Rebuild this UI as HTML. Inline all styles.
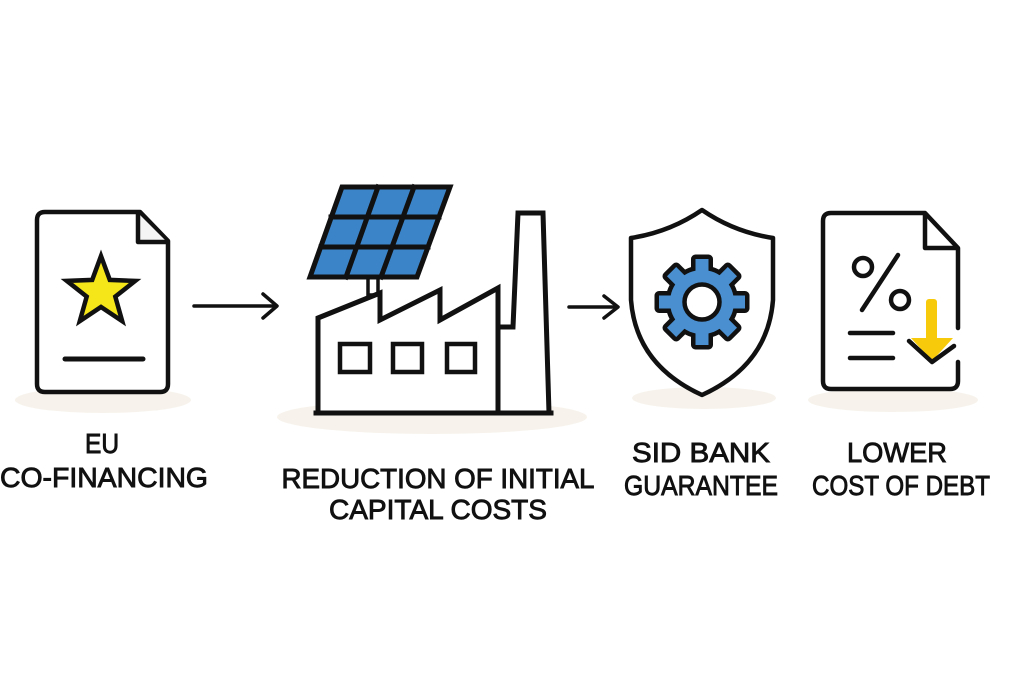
<!DOCTYPE html>
<html>
<head>
<meta charset="utf-8">
<style>
  html,body{margin:0;padding:0;background:#fff;}
  svg{display:block;}
  text{font-family:"Liberation Sans","DejaVu Sans",sans-serif;font-size:28px;fill:#111;stroke:#111;stroke-width:0.9px;}
</style>
</head>
<body>
<svg width="1024" height="683" viewBox="0 0 1024 683" xmlns="http://www.w3.org/2000/svg">
  <rect width="1024" height="683" fill="#fff"/>

  <!-- shadows -->
  <g fill="#f7f3ec">
    <ellipse cx="103" cy="400" rx="88" ry="13"/>
    <ellipse cx="432" cy="417" rx="155" ry="17"/>
    <ellipse cx="704" cy="398" rx="72" ry="11"/>
    <ellipse cx="893" cy="400" rx="85" ry="12"/>
  </g>

  <!-- Doc 1: EU co-financing -->
  <g stroke="#111" stroke-width="4.5" stroke-linejoin="round" stroke-linecap="round">
    <path d="M45,212 L140,212 L168,241 L168,384 Q168,392 160,392 L45,392 Q37,392 37,384 L37,220 Q37,212 45,212 Z" fill="#fff"/>
    <path d="M138,213 L138,242 L167,242" fill="#f4f4f4"/>
    <path d="M101,256 L109.8,279.9 L135.2,280.9 L115.3,296.6 L122.2,321.1 L101,307 L79.8,321.1 L86.7,296.6 L66.8,280.9 L92.2,279.9 Z" fill="#f5e61a" stroke-linejoin="miter"/>
    <line x1="65" y1="359" x2="143" y2="359" stroke-width="5"/>
  </g>

  <!-- Arrow 1 -->
  <g stroke="#111" stroke-width="3.5" fill="none" stroke-linecap="round" stroke-linejoin="round">
    <line x1="194" y1="306" x2="276" y2="306"/>
    <polyline points="263,294 277,306 263,318"/>
  </g>

  <!-- Factory with solar panel -->
  <g stroke="#111" stroke-width="5" stroke-linejoin="miter" stroke-linecap="square">
    <rect x="368" y="276" width="10" height="19" fill="#fff" stroke-width="3.5"/>
    <path d="M342,187 L450,187 L417,277 L310,277 Z" fill="#3c84c8"/>
    <line x1="331" y1="217" x2="439" y2="217"/>
    <line x1="321" y1="247" x2="428" y2="247"/>
    <line x1="378" y1="187" x2="346" y2="277"/>
    <line x1="414" y1="187" x2="381" y2="277"/>
    <path d="M498,327 L513,327 L518,213 L543,213 L549,413 L498,413 Z" fill="#fff"/>
    <path d="M318,413 L318,318 L380,293 L380,320 L440,290 L440,320 L498,288 L498,413 Z" fill="#fff"/>
    <line x1="316" y1="413" x2="551" y2="413"/>
    <rect x="340" y="344" width="30" height="28" fill="#fff" stroke-width="4.5"/>
    <rect x="393" y="344" width="29" height="28" fill="#fff" stroke-width="4.5"/>
    <rect x="447" y="344" width="28" height="28" fill="#fff" stroke-width="4.5"/>
  </g>

  <!-- Arrow 2 -->
  <g stroke="#111" stroke-width="3.5" fill="none" stroke-linecap="round" stroke-linejoin="round">
    <line x1="569" y1="307" x2="617" y2="307"/>
    <polyline points="604,296 618,307 604,318"/>
  </g>

  <!-- Shield with gear -->
  <path d="M702,210 Q670,232 631,238 L631,300 Q636,365 702,395 Q768,365 773,300 L773,238 Q734,232 702,210 Z" fill="#fff" stroke="#111" stroke-width="4.5" stroke-linejoin="round"/>
  <g transform="translate(702,302)">
    <g fill="#111" stroke="#111" stroke-width="9" stroke-linejoin="round">
      <circle r="32"/>
      <rect x="-6.5" y="-43" width="13" height="86"/>
      <rect x="-6.5" y="-43" width="13" height="86" transform="rotate(45)"/>
      <rect x="-6.5" y="-43" width="13" height="86" transform="rotate(90)"/>
      <rect x="-6.5" y="-43" width="13" height="86" transform="rotate(135)"/>
    </g>
    <g fill="#4a8fd0">
      <circle r="32"/>
      <rect x="-6.5" y="-43" width="13" height="86"/>
      <rect x="-6.5" y="-43" width="13" height="86" transform="rotate(45)"/>
      <rect x="-6.5" y="-43" width="13" height="86" transform="rotate(90)"/>
      <rect x="-6.5" y="-43" width="13" height="86" transform="rotate(135)"/>
    </g>
    <circle r="17.5" fill="#fff" stroke="#111" stroke-width="4.5"/>
  </g>

  <!-- Doc 4: lower cost of debt -->
  <g stroke="#111" stroke-width="4.5" fill="none" stroke-linejoin="round" stroke-linecap="round">
    <path d="M958,328 L958,248 L925,213 L831,213 Q823,213 823,221 L823,381 Q823,389 831,389 L950,389 Q958,389 958,381 L958,362" fill="#fff"/>
    <path d="M925,214 L925,248 L957,248"/>
    <circle cx="863" cy="267" r="9"/>
    <circle cx="900" cy="300" r="9"/>
    <line x1="898" y1="255" x2="862" y2="310"/>
    <line x1="850" y1="333" x2="893" y2="333"/>
    <line x1="850" y1="358" x2="893" y2="358"/>
  </g>
  <rect x="926" y="299" width="11" height="42" rx="3" fill="#f7cb0c"/>
  <path d="M911,338 L953,338 L932,361 Z" fill="#f7cb0c"/>
  <polyline points="909,341 932,362 954,346" fill="none" stroke="#111" stroke-width="4.5" stroke-linecap="round" stroke-linejoin="round"/>

  <!-- Labels -->
  <text x="102" y="453" text-anchor="middle" textLength="34" lengthAdjust="spacingAndGlyphs">EU</text>
  <text x="104" y="487" text-anchor="middle" textLength="208" lengthAdjust="spacingAndGlyphs">CO-FINANCING</text>
  <text x="438" y="488" text-anchor="middle" textLength="313" lengthAdjust="spacingAndGlyphs">REDUCTION OF INITIAL</text>
  <text x="438" y="519" text-anchor="middle" textLength="218" lengthAdjust="spacingAndGlyphs">CAPITAL COSTS</text>
  <text x="701" y="462" text-anchor="middle" textLength="138" lengthAdjust="spacingAndGlyphs">SID BANK</text>
  <text x="701" y="495" text-anchor="middle" textLength="154" lengthAdjust="spacingAndGlyphs">GUARANTEE</text>
  <text x="897" y="462" text-anchor="middle" textLength="100" lengthAdjust="spacingAndGlyphs">LOWER</text>
  <text x="901" y="495" text-anchor="middle" textLength="178" lengthAdjust="spacingAndGlyphs">COST OF DEBT</text>
</svg>
</body>
</html>
